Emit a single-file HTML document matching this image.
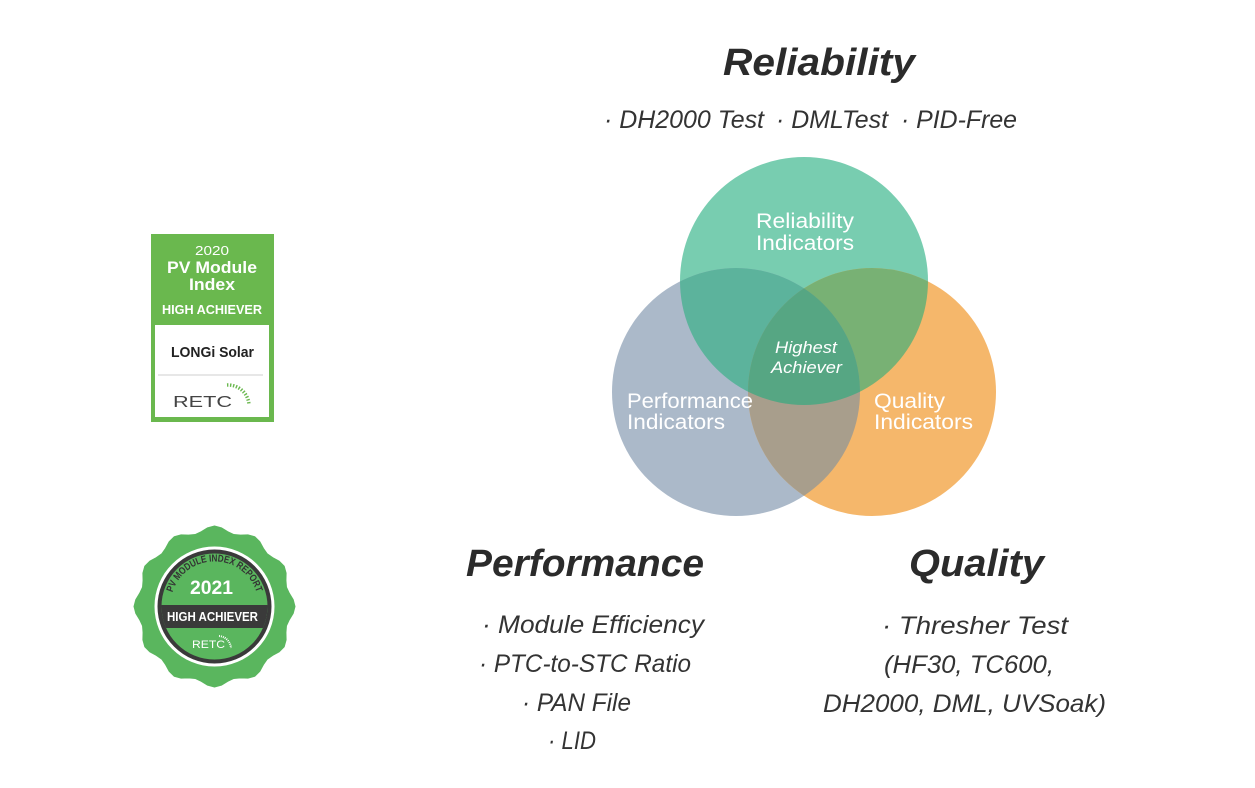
<!DOCTYPE html>
<html>
<head>
<meta charset="utf-8">
<style>
html,body{margin:0;padding:0;background:#fff;}
body{width:1255px;height:788px;overflow:hidden;}
svg{display:block;}
.t{font-family:"Liberation Sans",sans-serif;}
</style>
</head>
<body>
<svg width="1255" height="788" viewBox="0 0 1255 788" xmlns="http://www.w3.org/2000/svg">
<defs>
  <clipPath id="cT"><circle cx="804" cy="281" r="124"/></clipPath>
  <clipPath id="cL"><circle cx="736" cy="392" r="124"/></clipPath>
  <clipPath id="cR"><circle cx="872" cy="392" r="124"/></clipPath>
  <clipPath id="b2in"><circle cx="214.5" cy="606.5" r="53"/></clipPath>
  <path id="arcTxt" d="M171.5 596 A44 44 0 0 1 257.5 596"/>
</defs>

<!-- ===== Venn ===== -->
<circle cx="804" cy="281" r="124" fill="#78cdb0"/>
<circle cx="736" cy="392" r="124" fill="#abb9c9"/>
<circle cx="872" cy="392" r="124" fill="#f5b76b"/>
<g clip-path="url(#cL)"><circle cx="804" cy="281" r="124" fill="#5cb39c"/></g>
<g clip-path="url(#cR)"><circle cx="804" cy="281" r="124" fill="#78b174"/></g>
<g clip-path="url(#cR)"><circle cx="736" cy="392" r="124" fill="#a89e8c"/></g>
<g clip-path="url(#cR)"><g clip-path="url(#cL)"><circle cx="804" cy="281" r="124" fill="#56a683"/></g></g>

<g class="t" fill="#fff" font-size="21">
  <text x="756" y="228" textLength="98" lengthAdjust="spacingAndGlyphs">Reliability</text>
  <text x="756" y="250" textLength="98" lengthAdjust="spacingAndGlyphs">Indicators</text>
  <text x="627" y="408" textLength="126" lengthAdjust="spacingAndGlyphs">Performance</text>
  <text x="627" y="429" textLength="98" lengthAdjust="spacingAndGlyphs">Indicators</text>
  <text x="874" y="408" textLength="71" lengthAdjust="spacingAndGlyphs">Quality</text>
  <text x="874" y="429" textLength="99" lengthAdjust="spacingAndGlyphs">Indicators</text>
</g>
<g class="t" fill="#fff" font-size="17" font-style="italic">
  <text x="775" y="353" textLength="62" lengthAdjust="spacingAndGlyphs">Highest</text>
  <text x="771" y="373" textLength="71" lengthAdjust="spacingAndGlyphs">Achiever</text>
</g>

<!-- ===== Titles ===== -->
<g class="t" fill="#2b2b2b" font-size="38" font-weight="bold" font-style="italic">
  <text x="723" y="75" textLength="192" lengthAdjust="spacingAndGlyphs">Reliability</text>
  <text x="466" y="576" textLength="238" lengthAdjust="spacingAndGlyphs">Performance</text>
  <text x="909" y="576" textLength="135" lengthAdjust="spacingAndGlyphs">Quality</text>
</g>

<!-- ===== Body lists ===== -->
<g class="t" fill="#333" font-size="25" font-style="italic">
  <text x="604" y="128" textLength="160" lengthAdjust="spacingAndGlyphs">· DH2000 Test</text>
  <text x="776" y="128" textLength="112" lengthAdjust="spacingAndGlyphs">· DMLTest</text>
  <text x="901" y="128" textLength="116" lengthAdjust="spacingAndGlyphs">· PID-Free</text>

  <text x="482" y="633" textLength="222" lengthAdjust="spacingAndGlyphs">· Module Efficiency</text>
  <text x="479" y="672" textLength="212" lengthAdjust="spacingAndGlyphs">· PTC-to-STC Ratio</text>
  <text x="522" y="711" textLength="109" lengthAdjust="spacingAndGlyphs">· PAN File</text>
  <text x="548" y="749" textLength="48" lengthAdjust="spacingAndGlyphs">· LID</text>

  <text x="882" y="634" textLength="186" lengthAdjust="spacingAndGlyphs">· Thresher Test</text>
  <text x="884" y="673" textLength="170" lengthAdjust="spacingAndGlyphs">(HF30, TC600,</text>
  <text x="823" y="712" textLength="283" lengthAdjust="spacingAndGlyphs">DH2000, DML, UVSoak)</text>
</g>

<!-- ===== Badge 1 (2020) ===== -->
<rect x="151" y="234" width="123" height="188" fill="#6ab84e"/>
<rect x="155" y="325" width="114" height="92" fill="#fff"/>
<line x1="158" y1="375" x2="263" y2="375" stroke="#cfcfcf" stroke-width="1"/>
<g class="t" fill="#fff">
  <text x="195" y="255" font-size="13" textLength="34" lengthAdjust="spacingAndGlyphs">2020</text>
  <text x="167" y="273" font-size="17" font-weight="bold" textLength="90" lengthAdjust="spacingAndGlyphs">PV Module</text>
  <text x="189" y="290" font-size="17" font-weight="bold" textLength="46" lengthAdjust="spacingAndGlyphs">Index</text>
  <text x="162" y="314" font-size="12.5" font-weight="bold" textLength="100" lengthAdjust="spacingAndGlyphs">HIGH ACHIEVER</text>
</g>
<text class="t" x="171" y="357" font-size="15" font-weight="bold" fill="#222" textLength="83" lengthAdjust="spacingAndGlyphs">LONGi Solar</text>
<text class="t" x="173" y="407" font-size="16" fill="#444" textLength="59" lengthAdjust="spacingAndGlyphs">RETC</text>
<path d="M227 385 A21 21 0 0 1 249 405" fill="none" stroke="#6ab84e" stroke-width="3.5" stroke-dasharray="1.4 1.6"/>

<!-- ===== Badge 2 (2021) ===== -->
<g transform="translate(214.5,606.5)">
<polygon fill="#5ab65e" stroke="#5ab65e" stroke-width="1" stroke-linejoin="round" points="
80.5,0 78.7,6.89 74.84,13.19 71.96,19.28 71.42,25.99 71.6,33.39 69.71,40.25 64.72,45.31 58.22,48.85 52.68,52.68 48.85,58.22 45.31,64.72 40.25,69.71 33.39,71.6 25.99,71.42 19.28,71.96 13.19,74.84 6.89,78.7 0,80.5
-6.89,78.7 -13.19,74.84 -19.28,71.96 -25.99,71.42 -33.39,71.6 -40.25,69.71 -45.31,64.72 -48.85,58.22 -52.68,52.68 -58.22,48.85 -64.72,45.31 -69.71,40.25 -71.6,33.39 -71.42,25.99 -71.96,19.28 -74.84,13.19 -78.7,6.89 -80.5,0
-78.7,-6.89 -74.84,-13.19 -71.96,-19.28 -71.42,-25.99 -71.6,-33.39 -69.71,-40.25 -64.72,-45.31 -58.22,-48.85 -52.68,-52.68 -48.85,-58.22 -45.31,-64.72 -40.25,-69.71 -33.39,-71.6 -25.99,-71.42 -19.28,-71.96 -13.19,-74.84 -6.89,-78.7 0,-80.5
6.89,-78.7 13.19,-74.84 19.28,-71.96 25.99,-71.42 33.39,-71.6 40.25,-69.71 45.31,-64.72 48.85,-58.22 52.68,-52.68 58.22,-48.85 64.72,-45.31 69.71,-40.25 71.6,-33.39 71.42,-25.99 71.96,-19.28 74.84,-13.19 78.7,-6.89"/>
</g>
<circle cx="214.5" cy="606.5" r="60" fill="#fff"/>
<circle cx="214.5" cy="606.5" r="57" fill="#3a3a3a"/>
<circle cx="214.5" cy="606.5" r="53" fill="#5ab65e"/>
<rect x="160" y="605" width="110" height="23" fill="#3a3a3a" clip-path="url(#b2in)"/>
<text class="t" font-size="10" font-weight="bold" fill="#333">
  <textPath href="#arcTxt" startOffset="50%" text-anchor="middle" textLength="112" lengthAdjust="spacingAndGlyphs">PV MODULE INDEX REPORT</textPath>
</text>
<g class="t" fill="#fff" font-weight="bold">
  <text x="190" y="594" font-size="19" textLength="43" lengthAdjust="spacingAndGlyphs">2021</text>
  <text x="167" y="621" font-size="12.5" textLength="91" lengthAdjust="spacingAndGlyphs">HIGH ACHIEVER</text>
</g>
<text class="t" x="192" y="648" font-size="11" fill="#fff" textLength="33" lengthAdjust="spacingAndGlyphs">RETC</text>
<path d="M219 636 A13 13 0 0 1 231 648" fill="none" stroke="#fff" stroke-width="2" stroke-dasharray="1 1"/>
</svg>
</body>
</html>
